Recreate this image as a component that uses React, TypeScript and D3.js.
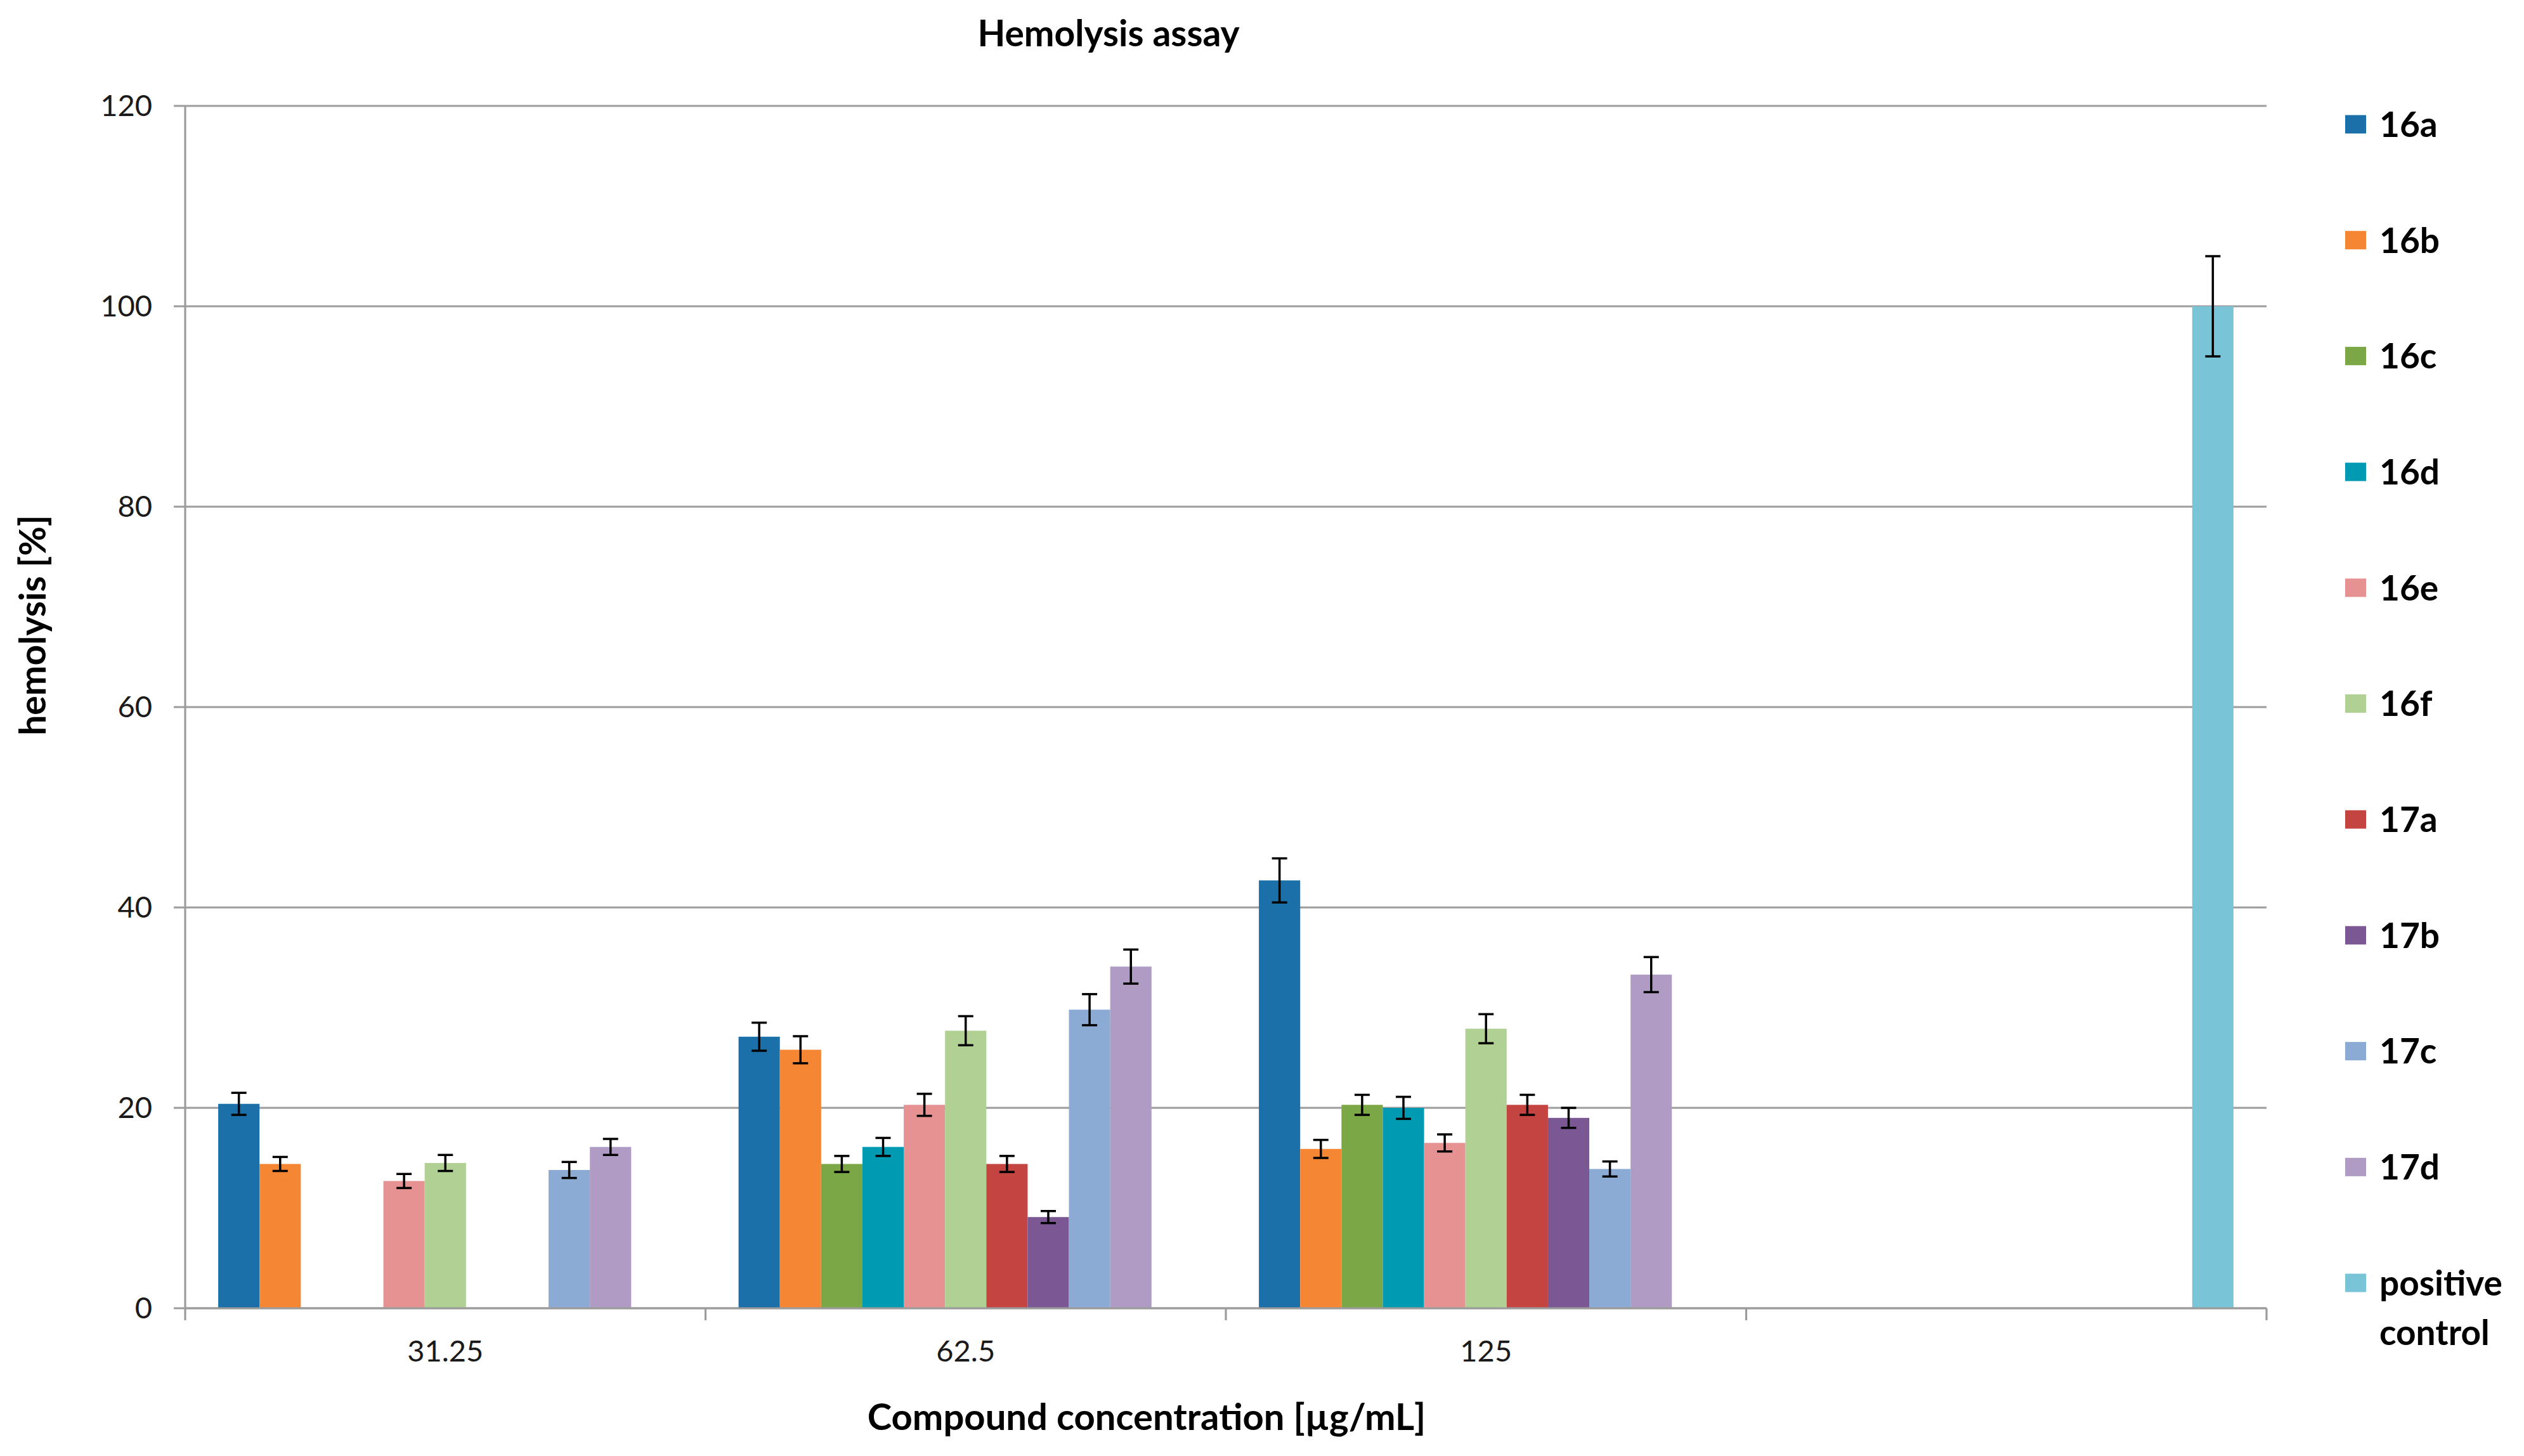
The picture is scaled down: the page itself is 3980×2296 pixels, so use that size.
import React from 'react';
import * as d3 from 'd3';

// categories on the x axis (last one only holds the positive control)
const categories = ['31.25', '62.5', '125', 'control'];
const tickLabels = ['31.25', '62.5', '125', ''];
const series = ['16a', '16b', '16c', '16d', '16e', '16f', '17a', '17b', '17c', '17d', 'positive control'];
const colors = ['#1b70aa', '#f48634', '#7ca746', '#009ab3', '#e69292', '#b1d094', '#c44442', '#7b5894', '#8baad4', '#af9bc3', '#7ac4d7'];

// hemolysis [%] per series, one array per concentration
const hemo31 = [20.4, 14.4, null, null, 12.7, 14.5, null, null, 13.8, 16.1, null];
const hemo62 = [27.1, 25.8, 14.4, 16.1, 20.3, 27.7, 14.4, 9.1, 29.8, 34.1, null];
const hemo125 = [42.7, 15.9, 20.3, 20.0, 16.5, 27.9, 20.3, 19.0, 13.9, 33.3, null];
const hemoCtrl = [null, null, null, null, null, null, null, null, null, null, 100];

// error bar half-widths
const err31 = [1.1, 0.7, null, null, 0.7, 0.8, null, null, 0.8, 0.8, null];
const err62 = [1.4, 1.35, 0.8, 0.9, 1.1, 1.45, 0.8, 0.6, 1.55, 1.7, null];
const err125 = [2.2, 0.9, 1.0, 1.1, 0.85, 1.45, 1.0, 1.0, 0.75, 1.75, null];
const errCtrl = [null, null, null, null, null, null, null, null, null, null, 5];

const yTicks = [0, 20, 40, 60, 80, 100, 120];

const values = [hemo31, hemo62, hemo125, hemoCtrl];
const errors = [err31, err62, err125, errCtrl];

const W = 3980;
const H = 2296;
const left = 292;
const right = 3574;
const top = 167;
const bottom = 2063;
const FONT = 'Lato, "Open Sans", sans-serif';

export default function App() {
  const x0 = d3.scaleBand().domain(categories).range([left, right]).padding(0);
  const x1 = d3.scaleBand().domain(series).range([0, x0.bandwidth()]).paddingInner(0).paddingOuter(0.8);
  const y = d3.scaleLinear().domain([0, 120]).range([bottom, top]);

  const bars = [];
  categories.forEach((c, ci) => {
    series.forEach((s, si) => {
      const v = values[ci][si];
      if (v == null) return;
      bars.push({ c, s, v, e: errors[ci][si], color: colors[si] });
    });
  });

  const capW = 24;
  const legendY0 = 196;
  const legendStep = 182.7;

  return (
    <div style={{ position: 'absolute', left: 0, top: 0 }}>
      <svg width={W} height={H} style={{ display: 'block', background: '#fff' }} fontFamily={FONT}>
        {/* gridlines + y ticks */}
        {yTicks.map((t) => (
          <g key={t}>
            <line x1={left - 18} x2={right} y1={y(t)} y2={y(t)} stroke="#9c9c9c" strokeWidth={3.2} />
            <text x={240} y={y(t)} dy="0.35em" textAnchor="end" fontSize={47} fill="#1a1a1a">{t}</text>
          </g>
        ))}
        {/* y axis line */}
        <line x1={left} x2={left} y1={top} y2={bottom + 19} stroke="#9c9c9c" strokeWidth={3.2} />
        {/* x category boundary ticks */}
        {categories.map((c) => (
          <line key={c} x1={x0(c) + x0.bandwidth()} x2={x0(c) + x0.bandwidth()} y1={bottom} y2={bottom + 19} stroke="#9c9c9c" strokeWidth={3.2} />
        ))}

        {/* bars */}
        {bars.map((b) => (
          <rect key={b.c + b.s} x={x0(b.c) + x1(b.s)} y={y(b.v)} width={x1.bandwidth()} height={y(0) - y(b.v)} fill={b.color} />
        ))}
        {/* error bars */}
        {bars.map((b) => {
          const cx = x0(b.c) + x1(b.s) + x1.bandwidth() / 2;
          return (
            <g key={'e' + b.c + b.s} stroke="#000" strokeWidth={3.5}>
              <line x1={cx} x2={cx} y1={y(b.v + b.e)} y2={y(b.v - b.e)} />
              <line x1={cx - capW / 2} x2={cx + capW / 2} y1={y(b.v + b.e)} y2={y(b.v + b.e)} />
              <line x1={cx - capW / 2} x2={cx + capW / 2} y1={y(b.v - b.e)} y2={y(b.v - b.e)} />
            </g>
          );
        })}
        {/* x axis line on top */}
        <line x1={left} x2={right} y1={bottom} y2={bottom} stroke="#9c9c9c" strokeWidth={3.2} />

        {/* x tick labels */}
        {categories.map((c, i) => (
          <text key={'l' + c} x={x0(c) + x0.bandwidth() / 2} y={2147} textAnchor="middle" fontSize={47} fill="#1a1a1a">{tickLabels[i]}</text>
        ))}

        {/* titles */}
        <text x={1748} y={73} textAnchor="middle" fontSize={57} fontWeight="bold" fill="#000">Hemolysis assay</text>
        <text x={1808} y={2255} textAnchor="middle" fontSize={58} fontWeight="bold" fill="#000">Compound concentration [µg/mL]</text>
        <text transform="translate(72,986) rotate(-90)" textAnchor="middle" fontSize={57} fontWeight="bold" fill="#000">hemolysis [%]</text>

        {/* legend */}
        {series.map((s, i) => {
          const cy = legendY0 + i * legendStep;
          const lines = s === 'positive control' ? ['positive', 'control'] : [s];
          return (
            <g key={'lg' + s}>
              <rect x={3698} y={cy - 14.5} width={33} height={29} fill={colors[i]} />
              {lines.map((t, li) => (
                <text key={t} x={3752} y={cy + li * 78} dy="0.36em" fontSize={55} fontWeight="bold" fill="#000">{t}</text>
              ))}
            </g>
          );
        })}
      </svg>
    </div>
  );
}
